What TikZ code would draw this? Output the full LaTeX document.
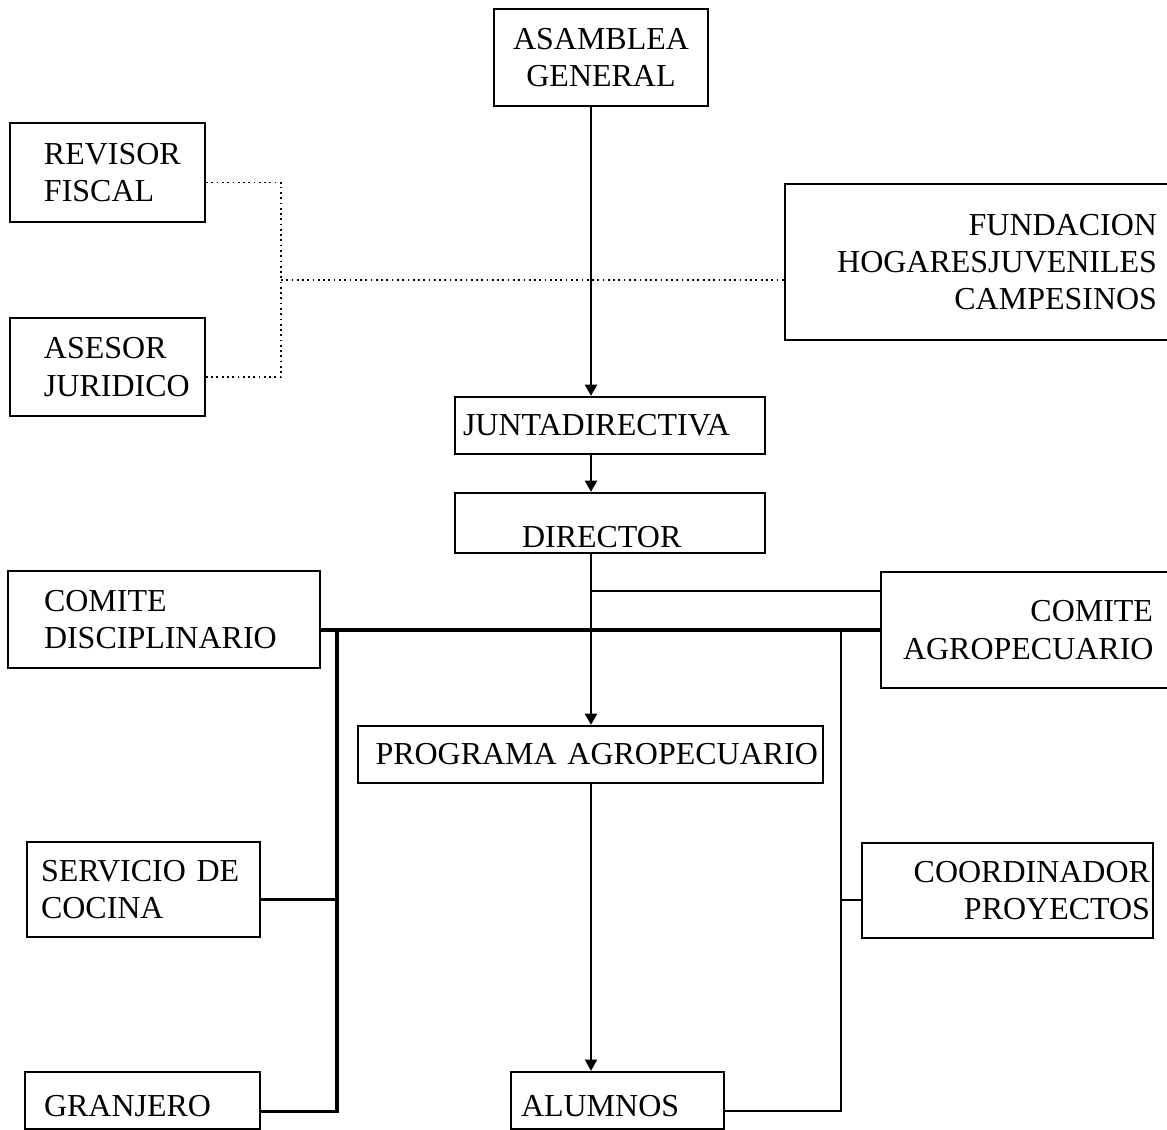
\documentclass[tikz,border=0pt]{standalone}
\usepackage{fontspec}
\setmainfont{Liberation Serif}
\usepackage{tikz}
\usetikzlibrary{arrows.meta}

\begin{document}
\begin{tikzpicture}[x=1cm,y=1cm,
  every node/.style={font=\fontsize{9.1}{10.6}\selectfont},
  orgbox/.style={draw,line width=0.65pt,inner sep=0pt},
  axisarrow/.style={line width=0.75pt,-{Triangle[width=3.4pt,length=3.2pt]}},
  thinarrow/.style={line width=0.5pt,-{Triangle[width=3.4pt,length=3.2pt]}},
  link/.style={line width=0.7pt},
  bar/.style={line width=1pt},
  dotline/.style={densely dotted,line width=0.5pt}]
  \useasboundingbox (0,0) rectangle (11.67,-11.29);

  \node[orgbox,minimum width=2.14cm,minimum height=0.97cm,align=center] (asamblea) at (6.01,-0.575) {ASAMBLEA\\GENERAL};
  \node[orgbox,minimum width=1.95cm,minimum height=0.99cm,text width=1.27cm,align=left] (revisor) at (1.075,-1.725) {REVISOR\\FISCAL};
  \node[orgbox,minimum width=1.95cm,minimum height=0.98cm,text width=1.27cm,align=left] (asesor) at (1.075,-3.67) {ASESOR\\JURIDICO};
  \node[orgbox,minimum width=3.90cm,minimum height=1.56cm,text width=3.54cm,align=right] (fundacion) at (9.80,-2.62) {FUNDACION\\HOGARESJUVENILES\\CAMPESINOS};
  \node[orgbox,minimum width=3.10cm,minimum height=0.57cm,text width=2.94cm,align=left] (junta) at (6.10,-4.255) {JUNTADIRECTIVA};
  \node[orgbox,minimum width=3.10cm,minimum height=0.60cm,text width=1.76cm,align=left,text height=0.48cm,text depth=0pt] (director) at (6.10,-5.23) {DIRECTOR};
  \node[orgbox,minimum width=3.12cm,minimum height=0.97cm,text width=2.40cm,align=left] (disciplinario) at (1.64,-6.195) {COMITE\\DISCIPLINARIO};
  \node[orgbox,minimum width=2.94cm,minimum height=1.16cm,text width=2.50cm,align=right] (agro) at (10.28,-6.30) {COMITE\\AGROPECUARIO};
  \node[orgbox,minimum width=4.65cm,minimum height=0.57cm,text width=4.55cm,align=right] (programa) at (5.905,-7.545) {PROGRAMA AGROPECUARIO};
  \node[orgbox,minimum width=2.33cm,minimum height=0.95cm,text width=2.05cm,align=left] (cocina) at (1.435,-8.895) {SERVICIO DE\\COCINA};
  \node[orgbox,minimum width=2.91cm,minimum height=0.95cm,text width=2.85cm,align=right] (coordinador) at (10.075,-8.905) {COORDINADOR\\PROYECTOS};
  \node[orgbox,minimum width=2.35cm,minimum height=0.57cm,text width=1.97cm,align=left,text height=0.31cm,text depth=0pt] (granjero) at (1.425,-11.005) {GRANJERO};
  \node[orgbox,minimum width=2.13cm,minimum height=0.57cm,text width=1.93cm,align=left,text height=0.31cm,text depth=0pt] (alumnos) at (6.175,-11.005) {ALUMNOS};

  \coordinate (axis) at (5.91,0);
  \coordinate (djunc) at (2.81,-2.80);
  \coordinate (split) at (5.91,-5.91);
  \coordinate (lriser) at (3.37,-6.30);
  \coordinate (rriser) at (8.41,-6.30);

  \draw[dotline] ([yshift=-1mm]revisor.east) -| (djunc) |- ([yshift=-1mm]asesor.east);
  \draw[dotline] (djunc) -- (djunc -| fundacion.west);

  \draw[axisarrow] (asamblea.south -| axis) -- (junta.north -| axis);
  \draw[axisarrow] (junta.south -| axis) -- (director.north -| axis);
  \draw[axisarrow] (director.south -| axis) -- (programa.north -| axis);
  \draw[thinarrow] (programa.south -| axis) -- (alumnos.north -| axis);

  \draw[link] (split) -- (split -| agro.west);
  \draw[bar] (disciplinario.east |- agro.west) -- (agro.west);
  \draw[bar] (lriser) |- ([yshift=-1.1mm]granjero.east);
  \draw[bar] ([yshift=-1mm]cocina.east) -- ([yshift=-1mm]cocina.east -| lriser);
  \draw[link] (rriser) |- ([yshift=-1.05mm]alumnos.east);
  \draw[link] ([yshift=-0.95mm]coordinador.west) -- ([yshift=-0.95mm]coordinador.west -| rriser);
\end{tikzpicture}
\end{document}
